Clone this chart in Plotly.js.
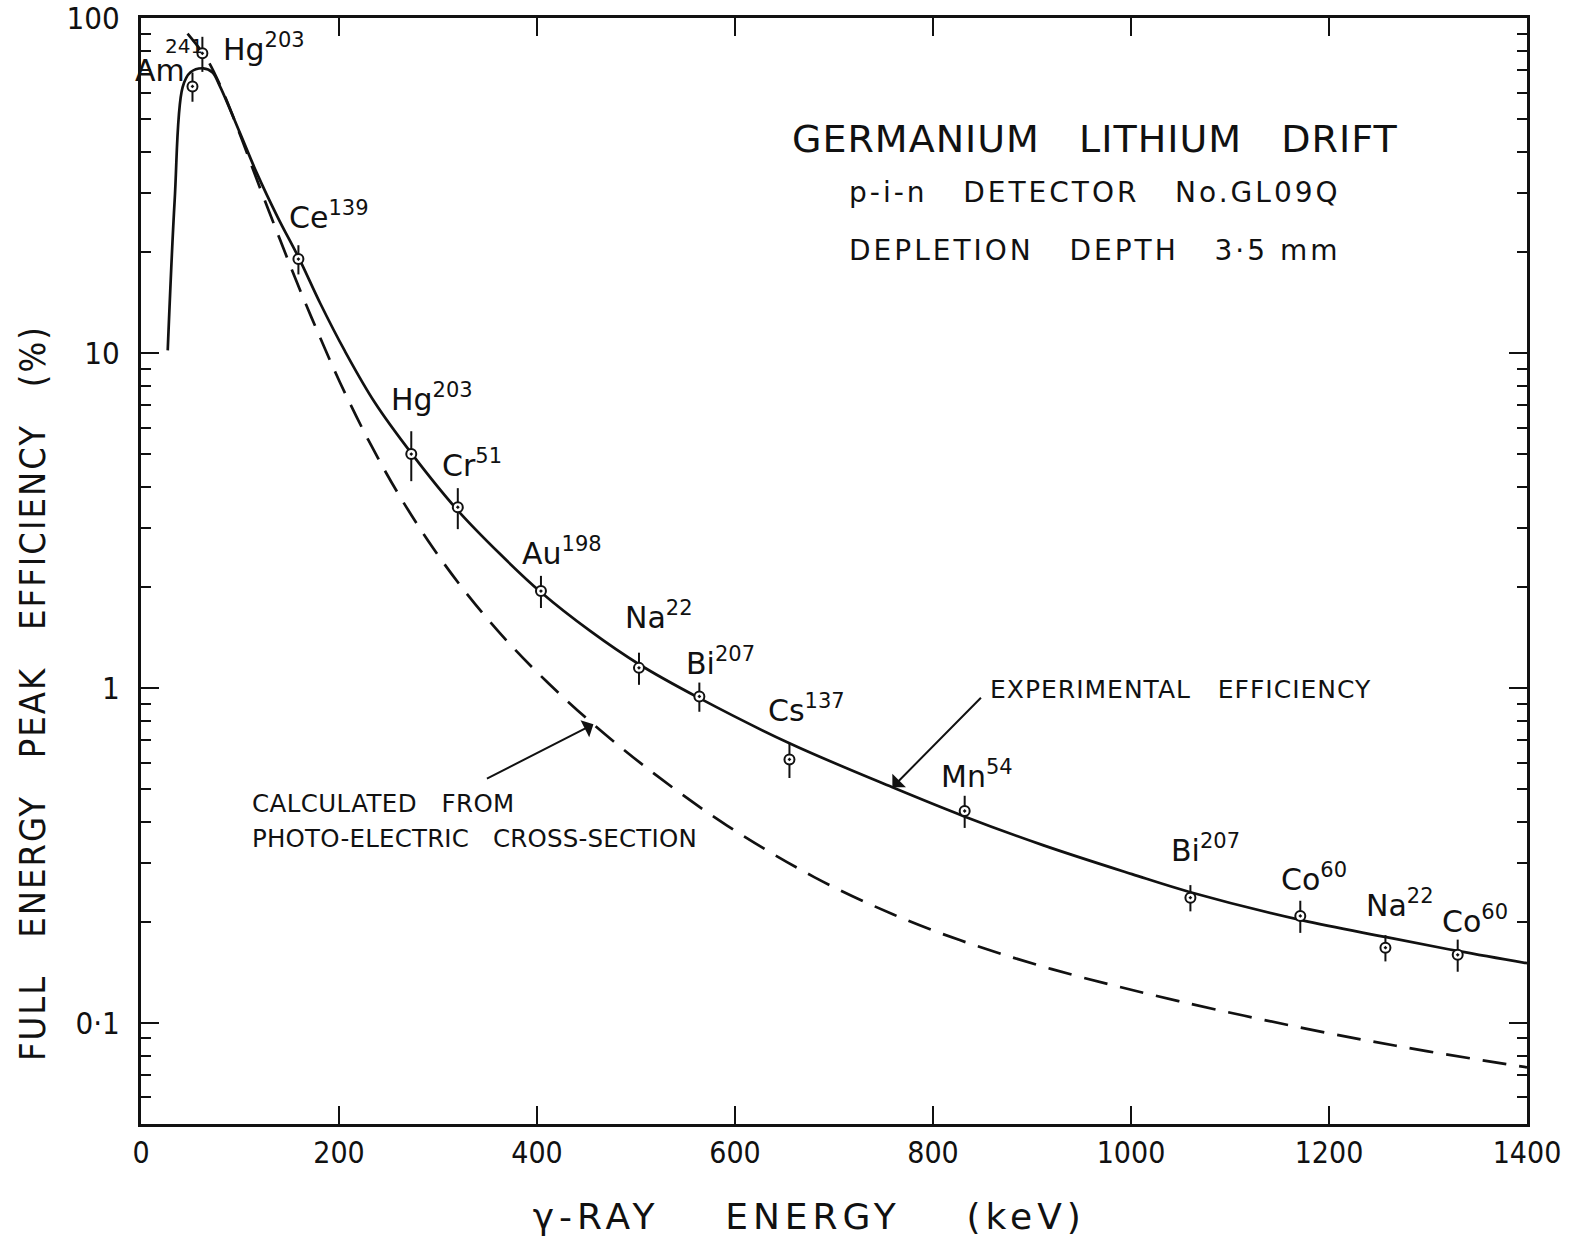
<!DOCTYPE html>
<html>
<head>
<meta charset="utf-8">
<script src="https://cdn.plot.ly/plotly-3.0.1.min.js"></script>
<style>
  html, body { margin: 0; padding: 0; background: #ffffff; }
  #chart { width: 1580px; height: 1238px; }
</style>
</head>
<body>
<div id="chart"></div>
<script>
// Calibration sources: element, mass number, gamma-ray energy (keV),
// measured full energy peak efficiency (%) and its uncertainty (%)
const sourceElements = ['Am', 'Hg', 'Ce', 'Hg', 'Cr', 'Au', 'Na', 'Bi', 'Cs', 'Mn', 'Bi', 'Co', 'Na', 'Co'];
const massNumbers    = ['241', '203', '139', '203', '51', '198', '22', '207', '137', '54', '207', '60', '22', '60'];
const sourceEnergyKeV = [52, 62, 159, 273, 320, 404, 503, 564, 655, 832, 1060, 1171, 1257, 1330];
const measuredEfficiency = [62.6, 78.6, 19.1, 5.0, 3.47, 1.95, 1.15, 0.945, 0.613, 0.43, 0.237, 0.209, 0.168, 0.16];
const efficiencyUncertaintyPct = [10, 12, 10, 17, 14, 11, 11, 10, 12, 11, 9, 11, 9, 11];

// Experimental efficiency curve drawn through the measurements
const experimentalEnergyKeV = [27, 34, 42, 50, 63, 72, 80, 100, 117, 138, 160, 181, 206, 236, 274, 319, 363, 404, 454, 503, 564, 655, 759, 831, 911, 1001, 1060, 1172, 1258, 1331, 1400];
const experimentalEfficiency = [10.2, 28.6, 62.2, 69.0, 70.9, 69.0, 62.4, 45.4, 34.5, 25.5, 19.1, 14.1, 10.14, 7.14, 4.99, 3.42, 2.51, 1.934, 1.48, 1.179, 0.934, 0.685, 0.506, 0.415, 0.340, 0.2785, 0.246, 0.203, 0.1806, 0.164, 0.151];

// Efficiency calculated from the photo-electric cross-section
const calculatedEnergyKeV = [47, 66, 80, 100, 117, 140, 160, 180, 201, 230, 260, 295, 330, 370, 410, 457, 520, 592, 680, 760, 827, 920, 1048, 1200, 1300, 1400];
const calculatedEfficiency = [90, 76, 63, 45, 33, 22.0, 15.6, 11.3, 8.18, 5.48, 3.80, 2.62, 1.90, 1.38, 1.045, 0.780, 0.551, 0.389, 0.273, 0.211, 0.177, 0.145, 0.1164, 0.0933, 0.0824, 0.0738];

// Axis ticks
const xTickValues = [0, 200, 400, 600, 800, 1000, 1200, 1400];
const yTickValues = [0.1, 1, 10, 100];
const yTickLabels = ['0·1', '1', '10', '100'];

// Label placement: offset (px) of each source label's left edge / baseline from its point
const labelOffsets = [[-56, -5], [22, 7], [-8, -31], [-19, -44], [-15, -31], [-18, -27], [-13, -40], [-12, -22],
                      [-20, -38], [-23, -24], [-18, -37], [-18, -26], [-18, -32], [-15, -23]];

const LETTERING = '"DejaVu Sans", "Liberation Sans", sans-serif';
const NARROW = '"Liberation Sans Narrow", "DejaVu Sans Condensed", "DejaVu Sans", sans-serif';
const INK = '#111111';
const GAP = '\u00a0\u00a0\u00a0';

function spaced(text, px) {
  return '<span style="letter-spacing:' + px + 'px">' + text + '</span>';
}

// minor ticks at 2..9 of every decade inside the y range
const minorTickValues = [];
[0.01, 0.1, 1, 10].forEach(function (decade) {
  for (let d = 2; d <= 9; d++) {
    const v = +(d * decade).toPrecision(3);
    if (v >= 0.05 && v < 100) minorTickValues.push(v);
  }
});

const traces = [
  {
    type: 'scatter', mode: 'lines',
    x: calculatedEnergyKeV, y: calculatedEfficiency,
    line: { color: INK, width: 2.7, dash: '24px,13px', shape: 'spline', smoothing: 1 },
    hoverinfo: 'skip'
  },
  {
    type: 'scatter', mode: 'lines',
    x: experimentalEnergyKeV, y: experimentalEfficiency,
    line: { color: INK, width: 2.7, shape: 'spline', smoothing: 1 },
    hoverinfo: 'skip'
  },
  {
    type: 'scatter', mode: 'markers',
    x: sourceEnergyKeV, y: measuredEfficiency,
    marker: { symbol: 'circle-dot', size: 10, color: '#ffffff', line: { color: INK, width: 2 } },
    error_y: {
      type: 'data', symmetric: true, visible: true,
      array: measuredEfficiency.map(function (v, i) { return v * efficiencyUncertaintyPct[i] / 100; }),
      color: INK, thickness: 2, width: 0
    }
  }
];

const annotations = [];

// isotope labels
sourceElements.forEach(function (el, i) {
  const isAm = el === 'Am';
  annotations.push({
    x: sourceEnergyKeV[i], y: Math.log10(measuredEfficiency[i]), xref: 'x', yref: 'y',
    text: isAm ? el : el + '<sup>' + massNumbers[i] + '</sup>',
    showarrow: false, xanchor: 'left', yanchor: 'bottom',
    xshift: labelOffsets[i][0] - 3, yshift: -(labelOffsets[i][1] + 9),
    font: { family: LETTERING, size: 30, color: INK }
  });
  if (isAm) {
    annotations.push({
      x: sourceEnergyKeV[i], y: Math.log10(measuredEfficiency[i]), xref: 'x', yref: 'y',
      text: massNumbers[i], showarrow: false, xanchor: 'left', yanchor: 'bottom',
      xshift: -27, yshift: 28, borderpad: 0, borderwidth: 0,
      font: { family: LETTERING, size: 20, color: INK }
    });
  }
});

// detector description
[
  { t: spaced('GERMANIUM' + GAP + 'LITHIUM' + GAP + 'DRIFT', 1), y: 0.8906, s: 38 },
  { t: spaced('p-i-n' + GAP + 'DETECTOR' + GAP + 'No.GL09Q', 3), y: 0.8418, s: 28 },
  { t: spaced('DEPLETION' + GAP + 'DEPTH' + GAP + '3·5\u00a0mm', 3), y: 0.7902, s: 28 }
].forEach(function (line) {
  annotations.push({
    xref: 'paper', yref: 'paper', x: 0.688, y: line.y, xanchor: 'center', yanchor: 'middle',
    text: line.t, showarrow: false, font: { family: LETTERING, size: line.s, color: INK }
  });
});

// curve callouts, arrow tips sit on the curves
const expIdx = experimentalEnergyKeV.indexOf(759);
annotations.push({
  x: experimentalEnergyKeV[expIdx], y: Math.log10(experimentalEfficiency[expIdx]), xref: 'x', yref: 'y',
  ax: 90, ay: -91, text: '', showarrow: true, arrowhead: 1, arrowsize: 1.6, arrowwidth: 2, arrowcolor: INK, standoff: 0
});
annotations.push({
  xref: 'paper', yref: 'paper', x: 0.6111, y: 0.3933, xanchor: 'left', yanchor: 'middle',
  text: spaced('EXPERIMENTAL' + GAP + 'EFFICIENCY', 1), showarrow: false,
  font: { family: LETTERING, size: 25, color: INK }
});
const calcIdx = calculatedEnergyKeV.indexOf(457);
annotations.push({
  x: calculatedEnergyKeV[calcIdx], y: Math.log10(calculatedEfficiency[calcIdx]), xref: 'x', yref: 'y',
  ax: -108, ay: 55, text: '', showarrow: true, arrowhead: 1, arrowsize: 1.6, arrowwidth: 2, arrowcolor: INK, standoff: 0
});
annotations.push({
  xref: 'paper', yref: 'paper', x: 0.0786, y: 0.2902, xanchor: 'left', yanchor: 'middle',
  text: spaced('CALCULATED' + GAP + 'FROM', 0.4), showarrow: false,
  font: { family: LETTERING, size: 24.5, color: INK }
});
annotations.push({
  xref: 'paper', yref: 'paper', x: 0.0786, y: 0.2577, xanchor: 'left', yanchor: 'middle',
  text: spaced('PHOTO-ELECTRIC' + GAP + 'CROSS-SECTION', 0.2), showarrow: false,
  font: { family: LETTERING, size: 24.5, color: INK }
});

// y axis title
annotations.push({
  xref: 'paper', yref: 'paper', x: -0.0779, y: 0.3897, xanchor: 'center', yanchor: 'middle',
  textangle: -90, showarrow: false,
  text: spaced('FULL' + GAP + 'ENERGY' + GAP + 'PEAK' + GAP + 'EFFICIENCY' + GAP + '(%)', 2),
  font: { family: NARROW, size: 36, color: INK }
});

const layout = {
  width: 1580, height: 1238,
  margin: { l: 141, r: 53, t: 18, b: 114 },
  paper_bgcolor: '#ffffff', plot_bgcolor: '#ffffff',
  showlegend: false,
  xaxis: {
    range: [0, 1400], tickmode: 'array', tickvals: xTickValues,
    ticks: 'inside', ticklen: 18, tickwidth: 2.5, tickcolor: INK,
    showline: true, linewidth: 3, linecolor: INK, mirror: 'ticks',
    showgrid: false, zeroline: false,
    tickfont: { family: NARROW, size: 30, color: INK },
    title: {
      text: spaced('γ-RAY' + GAP + '\u00a0' + 'ENERGY' + GAP + '\u00a0' + '(keV)' + GAP, 5),
      font: { family: LETTERING, size: 36, color: INK }, standoff: 35
    }
  },
  yaxis: {
    type: 'log', range: [Math.log10(0.05), 2.0008],
    tickmode: 'array', tickvals: yTickValues, ticktext: yTickLabels,
    ticks: 'inside', ticklen: 18, tickwidth: 2.5, tickcolor: INK,
    showline: true, linewidth: 3, linecolor: INK, mirror: 'ticks',
    showgrid: false, zeroline: false, ticklabelstandoff: 12,
    tickfont: { family: NARROW, size: 31, color: INK },
    minor: { tickmode: 'array', tickvals: minorTickValues, ticks: 'inside', ticklen: 10, tickwidth: 2, tickcolor: INK, showgrid: false }
  },
  annotations: annotations
};

Plotly.newPlot('chart', traces, layout, { displayModeBar: false, staticPlot: true });
</script>
</body>
</html>
